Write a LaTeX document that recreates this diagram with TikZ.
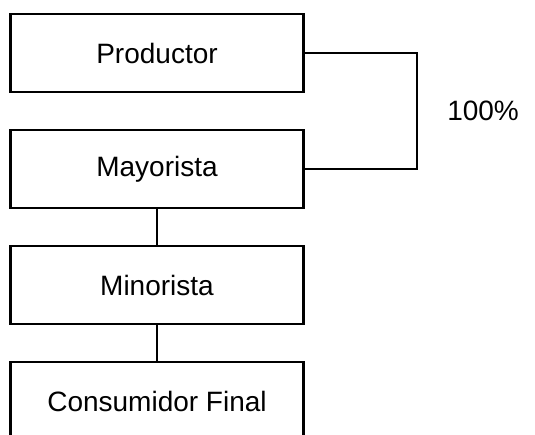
\documentclass[tikz,border=0pt]{standalone}
\usepackage{fontspec}
\setmainfont{Liberation Sans}
\usetikzlibrary{positioning,calc}
\tikzset{
  canal/box/.style={draw, line width=2.2pt, minimum width=220pt, minimum height=58.5pt, outer sep=0pt, inner sep=0pt, align=center, font=\fontsize{21}{25}\selectfont},
  canal/line/.style={line width=1.3pt},
  canal/pct/.style={inner sep=0pt, anchor=west, font=\fontsize{21}{25}\selectfont}
}

\begin{document}
\begin{tikzpicture}[x=0.75pt, y=-0.75pt, node distance=28.5pt]
  \useasboundingbox (0,0) rectangle (535,435);
  \node[canal/box] (prod) at (157,53) {Productor};
  \node[canal/box, below=of prod] (may) {Mayorista};
  \node[canal/box, below=of may] (min) {Minorista};
  \node[canal/box, below=of min] (cons) {Consumidor Final};
  \node[canal/pct] (pct) at (447,111) {100\%};

  \draw[canal/line] (prod.east) -- ++(113,0) |- (may.east);
  \draw[canal/line] (may) -- (min);
  \draw[canal/line] (min) -- (cons);
\end{tikzpicture}
\end{document}
